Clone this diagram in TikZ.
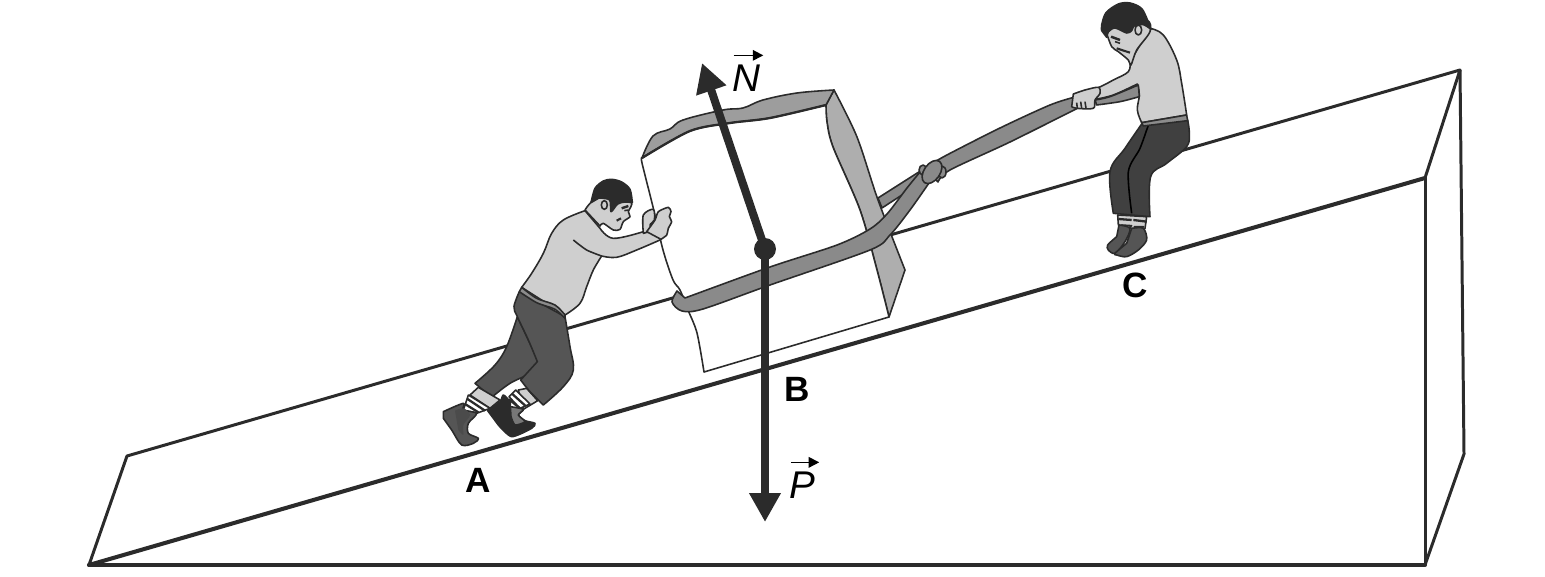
\documentclass[tikz,border=0pt]{standalone}
\usepackage{fontspec}
\setmainfont{Liberation Sans}
\usetikzlibrary{arrows.meta}
\definecolor{ink}{HTML}{2B2B2B}
\definecolor{skin}{HTML}{CFCFCF}
\definecolor{trousers}{HTML}{555555}
\definecolor{trousersC}{HTML}{404040}
\definecolor{band}{HTML}{8C8C8C}
\definecolor{side}{HTML}{AEAEAE}
\definecolor{strap}{HTML}{8A8A8A}
\tikzset{
  slope/.style={draw=ink,line width=1.7pt,line join=round},
  slopethick/.style={draw=ink,line width=2.3pt,line cap=round},
  outline/.style={draw=ink,line width=0.9pt,line join=round},
  skinpart/.style={outline,fill=skin},
  hairpart/.style={outline,fill=ink},
  trouserpart/.style={outline,fill=#1},
  trouserpart/.default=trousers,
  bandpart/.style={outline,fill=band},
  bootpart/.style={outline,fill=#1},
  bootpart/.default=ink,
  sockpart/.style={outline,fill=white},
  sockline/.style={draw=ink,line width=1.3pt},
  strappart/.style={outline,fill=strap},
  force/.style={draw=ink,line width=4.6pt,-{Triangle[length=16.5pt,width=17pt]}},
  vecmark/.style={draw=black,line width=0.9pt,-{Triangle[length=6pt,width=6pt]}},
  letter/.style={inner sep=0pt,font=\fontsize{20}{20}\selectfont\bfseries},
  vecletter/.style={inner sep=0pt,font=\fontsize{22}{22}\selectfont\itshape},
  ball/.style={circle,fill=ink,inner sep=0pt,minimum size=12.5pt},
}
\begin{document}
\begin{tikzpicture}[x=0.02cm,y=-0.02cm]
\useasboundingbox (0,0) rectangle (1545,577);
\draw [slope] (89,565) -- (127,456) -- (1460,70) -- (1425,178);
\draw [slope] (1460,70) -- (1464,454) -- (1425,565);
\draw [slope] (1425,178) -- (1425,565);
\draw [slopethick] (89,565) -- (1425,178);
\draw [slopethick] (89,565) -- (1425,565);
\draw [strappart] plot [smooth] coordinates {(878,198) (900,184) (922,170)} -- (930,180)
  -- plot [smooth] coordinates {(905,193) (882,208)} -- cycle;
\draw [outline,fill=side] (834,90) -- plot [smooth] coordinates {(834,90) (857,137) (878,200) (905,270)} -- (889,317)
  -- plot [smooth] coordinates {(889,317) (877,270) (860,210) (833,147) (827,122) (826,105)} -- cycle;
\draw [outline,fill=white] plot [smooth] coordinates {(642,158) (642,163) (653,207) (663,250) (673,280) (680,290) (688,310) (697,333) (704,372)}
  -- (889,317) -- plot [smooth] coordinates {(889,317) (877,270) (860,210) (833,147) (827,122) (826,105)}
  -- plot [smooth] coordinates {(826,105) (770,117) (730,122) (690,130) (642,158)};
\draw [outline,fill=band!85!white] plot [smooth,tension=0.6] coordinates {(642,158) (653,136) (670,129) (683,120) (723,110) (743,108) (763,100) (797,93) (834,90)}
  -- (826,105) -- plot [smooth] coordinates {(826,105) (770,118) (730,123) (690,131) (642,158)};
\draw [slope,line width=1.3pt] plot [smooth] coordinates {(826,105) (770,118) (730,123) (690,131) (642,158)};
\draw [strappart] plot [smooth] coordinates {(685,298) (770,267) (837,245) (870,229) (887,214) (907,188) (920,172)} -- (929,183)
  -- plot [smooth] coordinates {(929,183) (910,210) (890,235) (870,250) (770,285) (703,309) (682,311) (672,302) (677,291)} -- cycle;
\draw [strappart] plot [smooth] coordinates {(925,168) (945,156) (1000,128) (1050,105) (1075,97)} -- (1078,108)
  -- plot [smooth] coordinates {(1078,108) (1010,142) (950,170) (938,182)} -- cycle;
\draw [strappart] (923,170) circle [x radius=4,y radius=5];
\draw [strappart] (942,172) circle [x radius=4,y radius=6];
\draw [strappart,rotate around={55:(932,172)}] (932,172) ellipse [x radius=13,y radius=8];
\coordinate (Nfoot) at (765,249);
\coordinate (Ntip) at (702,63);
\coordinate (Ptip) at (765,522);
\draw [force] (Nfoot) -- (Ntip);
\draw [force] (Nfoot) -- (Ptip);
\node [ball] (massB) at (Nfoot) {};
\begin{scope}[shift={(430,170)},scale=1/3]
\draw [trouserpart] plot [smooth,tension=0.6] coordinates {(262,440) (230,530) (195,585) (135,640)} -- (185,682)
  -- plot [smooth,tension=0.6] coordinates {(185,682) (240,640) (300,610) (325,580) (295,510) (262,440)};
\end{scope}
\begin{scope}[shift={(435,380)},scale=1/3]
\draw [skinpart] (130,22) -- (195,60) -- (165,85) -- (105,45) -- cycle;
\draw [sockpart] (100,45) -- (165,85) -- (125,100) -- (85,90) -- cycle;
\draw [sockline] (96,56) -- (150,92);
\draw [sockline] (90,72) -- (130,97);
\draw [bootpart=trousers] plot [smooth,tension=0.5] coordinates {(25,95) (85,70) (85,90) (125,100) (100,130) (100,160) (130,175) (115,190) (80,195) (50,150) (25,115)} -- cycle;
\draw [draw=none,fill=ink!85!white] plot [smooth,tension=0.5] coordinates {(60,92) (85,85) (105,105) (85,135) (85,165) (70,150)} -- cycle;
\draw [skinpart] (250,30) -- (275,25) -- (308,62) -- (265,88) -- cycle;
\draw [sockpart] (222,50) -- (242,30) -- (285,72) -- (255,85) -- cycle;
\draw [sockline] (232,42) -- (272,78);
\draw [sockline] (222,58) -- (255,85);
\draw [bootpart] plot [smooth,tension=0.4] coordinates {(158,92) (195,65) (205,45) (225,65) (228,85) (265,88) (250,105) (270,122) (300,130) (290,145) (230,170) (190,135)} -- cycle;
\draw [bootpart=band!85!black] plot [smooth,tension=0.4] coordinates {(226,80) (265,88) (250,105) (270,125) (240,135) (228,110)} -- cycle;
\end{scope}
\begin{scope}[shift={(430,170)},scale=1/3]
\draw [trouserpart] plot [smooth,tension=0.6] coordinates {(268,365) (252,410) (262,440) (295,510) (322,575)} -- (272,630)
  -- plot [smooth,tension=0.6] coordinates {(272,630) (300,665) (340,705)}
  -- plot [smooth,tension=0.6] coordinates {(340,705) (400,650) (430,600) (420,530) (405,440)} -- cycle;
\draw [skinpart] plot [smooth,tension=0.6] coordinates {(465,122) (400,150) (365,190) (340,250) (305,310) (275,352)}
  -- (405,435) -- plot [smooth,tension=0.6] coordinates {(405,435) (450,400) (470,350) (490,300) (515,258)}
  -- plot [smooth,tension=0.6] coordinates {(515,258) (560,262) (620,240) (690,210)} -- (700,180)
  -- plot [smooth,tension=0.6] coordinates {(640,185) (550,205) (510,175)} -- cycle;
\draw [outline] plot [smooth] coordinates {(430,210) (470,240) (515,258)};
\draw [bandpart] plot [smooth,tension=0.5] coordinates {(275,352) (320,385) (375,405) (405,435)} -- (405,445)
  -- plot [smooth,tension=0.5] coordinates {(405,445) (375,418) (320,398) (268,365)} -- cycle;
\end{scope}
\begin{scope}[shift={(575,170)},scale=1/3]
\draw [skinpart] plot [smooth,tension=0.5] coordinates {(205,190) (205,135) (235,118) (238,150) (225,165) (235,182)} -- cycle;
\draw [skinpart] plot [smooth,tension=0.4] coordinates {(215,185) (240,150) (250,125) (280,112) (288,125) (283,140) (290,155) (280,175) (275,195) (258,208)} -- cycle;
\draw [skinpart] plot [smooth,tension=0.5] coordinates {(30,120) (50,95) (100,60) (168,95) (160,125) (165,140) (145,155) (135,178) (115,180) (85,160) (75,168)} -- cycle;
\draw [hairpart] plot [smooth,tension=0.5] coordinates {(48,98) (60,55) (85,33) (110,28) (140,36) (165,58) (172,98)}
  -- plot [smooth,tension=0.5] coordinates {(172,98) (150,96) (128,102) (108,125) (104,90) (72,84)} -- cycle;
\draw [skinpart] (88,105) ellipse [x radius=9,y radius=13];
\draw [outline,line width=1.4pt] (140,115) -- (160,108);
\draw [outline] (148,122) -- (160,120);
\draw [outline,line width=1.2pt] (125,152) -- (138,145);
\end{scope}
\begin{scope}[shift={(1095,205)},scale=1/3]
\draw [skinpart] (68,30) -- (155,35) -- (150,70) -- (140,78) -- (70,60) -- cycle;
\draw [sockline] (70,42) -- (110,45);
\draw [sockline] (115,45) -- (155,50);
\draw [sockpart] (80,60) -- (110,62) -- (100,72) -- cycle;
\draw [sockpart] (118,65) -- (145,65) -- (135,78) -- cycle;
\draw [bootpart=trousers] plot [smooth,tension=0.5] coordinates {(72,60) (105,70) (90,110) (60,145) (40,135) (38,120) (65,95)} -- cycle;
\draw [bootpart=trousers] plot [smooth,tension=0.5] coordinates {(110,70) (145,70) (155,105) (130,135) (95,155) (65,150) (60,145) (95,115)} -- cycle;
\end{scope}
\begin{scope}[shift={(1050,0)},scale=1/3]
\draw [trouserpart=trousersC] plot [smooth,tension=0.6] coordinates {(275,372) (225,445) (180,515) (190,640)} -- (300,650)
  -- plot [smooth,tension=0.6] coordinates {(300,650) (302,530) (350,490) (410,440) (418,400) (413,360)} -- cycle;
\draw [outline,draw=black] plot [smooth] coordinates {(295,375) (270,445) (235,515) (245,640)};
\draw [skinpart] plot [smooth,tension=0.6] coordinates {(300,85) (340,105) (380,180) (395,250) (410,345)}
  -- (275,368) -- plot [smooth,tension=0.6] coordinates {(275,368) (262,330) (268,285) (262,252)}
  -- plot [smooth,tension=0.6] coordinates {(262,252) (190,285) (135,298)} -- (75,285)
  -- plot [smooth,tension=0.6] coordinates {(75,285) (140,265) (190,240) (235,215) (240,185)} -- cycle;
\draw [bandpart] (275,368) -- (410,345) -- (413,362) -- (280,378) -- cycle;
\end{scope}
\begin{scope}[shift={(1060,80)},scale=1/3]
\draw [strappart] plot [smooth] coordinates {(105,60) (150,50) (235,15)} -- (238,50)
  -- plot [smooth] coordinates {(238,50) (180,65) (110,75)} -- cycle;
\draw [skinpart] plot [smooth,tension=0.5] coordinates {(40,42) (75,30) (115,22) (120,40) (105,60) (100,85) (50,85) (35,80)} -- cycle;
\draw [outline] (50,68) -- (52,85);
\draw [outline] (62,65) -- (65,85);
\draw [outline] (75,65) -- (78,85);
\end{scope}
\begin{scope}[shift={(1095,0)},scale=1/3]
\draw [skinpart] plot [smooth,tension=0.5] coordinates {(35,100) (50,140) (70,155) (100,180) (108,195) (125,150) (165,95) (155,60) (70,60)} -- cycle;
\draw [hairpart] plot [smooth,tension=0.5] coordinates {(20,92) (20,75) (33,38) (70,12) (105,9) (142,28) (168,88)}
  -- plot [smooth,tension=0.5] coordinates {(168,88) (145,74) (118,77) (110,92) (95,99) (60,84) (40,96) (35,112)} -- cycle;
\draw [skinpart] (130,90) ellipse [x radius=10,y radius=15];
\draw [outline,line width=1.4pt] (48,110) -- (75,120);
\draw [outline,line width=1.2pt] (65,145) -- (80,150) -- (105,158);
\draw [outline] (60,125) -- (75,130);
\end{scope}
\node [letter] (labelA) at (478,480) {A};
\node [letter] (labelB) at (797,389) {B};
\node [letter] (labelC) at (1135,285) {C};
\node [vecletter] (labelN) at (746,78) {N};
\node [vecletter] (labelP) at (802,485) {P};
\draw [vecmark] ([shift={(2,-9)}]labelN.north west) -- ([shift={(3,-9)}]labelN.north east);
\draw [vecmark] ([shift={(2,-9)}]labelP.north west) -- ([shift={(4,-9)}]labelP.north east);
\end{tikzpicture}
\end{document}
